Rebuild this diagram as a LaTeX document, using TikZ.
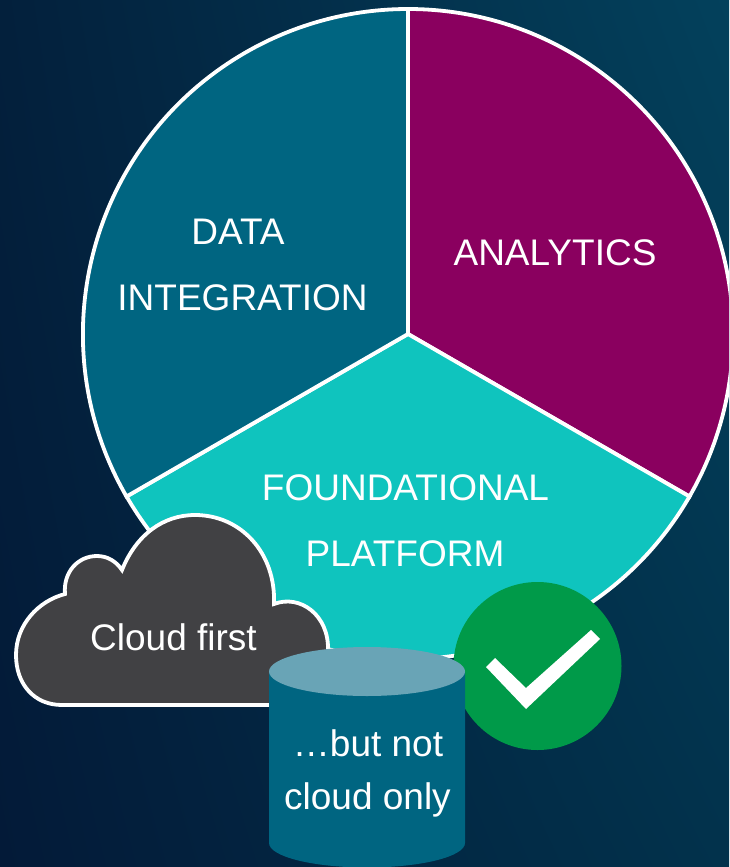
\documentclass[tikz,border=0pt]{standalone}
\usepackage{fontspec}
\usetikzlibrary{shadings}
\setmainfont{Liberation Sans}
\definecolor{bgUL}{HTML}{03203C}
\definecolor{bgUR}{HTML}{03415C}
\definecolor{bgLL}{HTML}{031A38}
\definecolor{bgLR}{HTML}{02324C}
\definecolor{magentaW}{HTML}{8A005F}
\definecolor{tealW}{HTML}{0FC4BE}
\definecolor{blueW}{HTML}{006581}
\definecolor{cloudC}{HTML}{414144}
\definecolor{greenC}{HTML}{009A49}
\definecolor{cylC}{HTML}{006581}
\definecolor{cylTop}{HTML}{69A4B6}
\tikzset{
  lbl/.style={text=white,font=\fontsize{37}{40}\selectfont,inner sep=0pt,anchor=base},
  wedgeline/.style={draw=white,line width=3.8pt,line join=miter},
}
\begin{document}
\begin{tikzpicture}[x=1pt,y=-1pt]
\useasboundingbox (0,0) rectangle (729,867);
\clip (0,0) rectangle (729,867);
\shade[upper left=bgUL,upper right=bgUR,lower left=bgLL,lower right=bgLR] (0,0) rectangle (729,867);
\coordinate (c) at (408,334);
% wedges
\path[wedgeline,fill=magentaW] (c) -- (408,9) arc[start angle=-90,delta angle=120,radius=325] -- cycle;
\path[wedgeline,fill=tealW] (c) -- (689.5,496.5) arc[start angle=30,delta angle=120,radius=325] -- cycle;
\path[wedgeline,fill=blueW] (c) -- (126.5,496.5) arc[start angle=150,delta angle=120,radius=325] -- cycle;
\node[lbl] (data) at (238,244) {DATA};
\node[lbl] (integ) at (242.5,310) {INTEGRATION};
\node[lbl] (ana) at (555,265) {ANALYTICS};
\node[lbl] (found) at (405.5,500) {FOUNDATIONAL};
\node[lbl] (plat) at (405,566) {PLATFORM};
% cloud
\path[draw=white,line width=3.8pt,fill=cloudC,line join=miter]
  (62,705) .. controls (34,705) and (16,684) .. (16,655)
  .. controls (16,625) and (38,601) .. (65,594)
  .. controls (63,572) and (78,556) .. (97,556)
  .. controls (107,556) and (116,561) .. (122,570)
  .. controls (136,535) and (163,515) .. (195,515)
  .. controls (241,515) and (276,553) .. (274,604)
  .. controls (300,594) and (329,615) .. (328,650)
  -- (328,705) -- cycle;
\node[lbl] (cloudt) at (173.5,650) {Cloud first};
% check circle
\node[circle,fill=greenC,minimum size=168pt,inner sep=0pt] (chk) at (537.5,666) {};
\fill[white] (486,667) -- (495,658) -- (526,688) -- (591,630) -- (600,639) -- (526,709) -- cycle;
% cylinder
\path[fill=cylC] (269,672) -- (269,843) arc[start angle=180,end angle=0,x radius=98,y radius=24.5] -- (465,672) -- cycle;
\path[fill=cylTop] (367,671.5) ellipse[x radius=98,y radius=24.5];
\node[lbl] (but) at (368,756.5) {…but not};
\node[lbl] (only) at (367.5,809.5) {cloud only};
\end{tikzpicture}
\end{document}
